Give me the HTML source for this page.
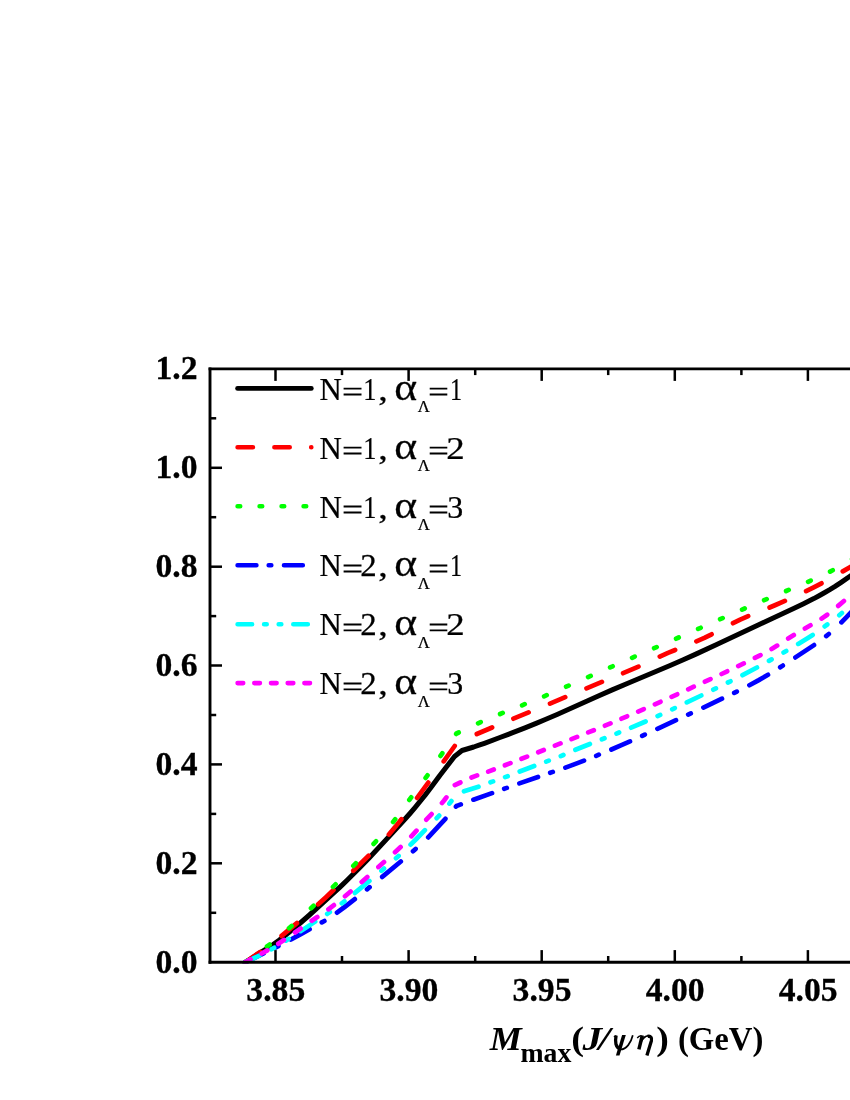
<!DOCTYPE html>
<html><head><meta charset="utf-8"><title>chart</title>
<style>html,body{margin:0;padding:0;background:#fff;}body{width:850px;height:1100px;overflow:hidden;font-family:"Liberation Serif",serif;}svg{display:block;will-change:transform;}text{font-family:"Liberation Serif",serif;}</style>
</head><body>
<svg width="850" height="1100" viewBox="0 0 850 1100">
<rect x="0" y="0" width="850" height="1100" fill="#ffffff"/>
<defs><clipPath id="cp"><rect x="210.0" y="368.9" width="700" height="594.8"/></clipPath></defs>
<g fill="none" stroke-linecap="round" stroke-linejoin="round" clip-path="url(#cp)">
<path d="M245.0,962.5L260.3,952.6L268.9,947.4L272.8,944.8L275.6,942.8L279.1,940.2L288.1,933.1L300.3,923.0L308.9,915.5L333.4,893.2L339.7,887.4L347.1,880.2L358.6,868.8L369.1,857.9L392.9,832.4L405.3,818.8L410.4,813.0L415.2,807.3L425.3,794.9L430.0,788.8L440.0,775.2L454.5,756.5L462.0,750.5L473.7,747.0L479.0,745.2L484.4,743.3L499.9,737.5L512.7,732.7L525.0,727.9L536.1,723.4L545.9,719.3L557.1,714.5L597.2,696.5L612.2,689.9L627.3,683.5L670.1,665.5L683.3,659.8L695.9,654.1L716.7,644.5L758.2,624.9L793.6,608.5L803.6,603.7L813.8,598.6L819.1,595.7L824.4,592.7L829.8,589.6L834.7,586.6L841.2,582.3L851.5,575.3L855.3,572.5L860.0,569.0" stroke="#000000" stroke-width="5.0"/>
<path d="M245.0,962.4L260.3,951.9M281.6,935.9L288.8,929.9L296.9,923.1M318.2,904.3L325.7,897.4L333.5,890.0M353.3,870.8L368.6,855.8M388.9,834.5L395.1,827.1L401.4,819.2M417.1,797.9L428.3,782.6M443.7,761.3L454.7,746.0M476.8,734.0L492.1,727.5M513.4,718.7L528.6,712.4M550.0,703.6L565.2,697.2M586.5,688.3L601.9,681.9M623.1,673.2L631.4,669.7L638.5,666.6M659.8,656.6L668.0,652.9L675.1,650.0M696.4,641.4L704.4,637.9L711.6,634.3M733.0,623.2L740.2,619.6L748.2,616.1M769.6,607.5L775.5,605.0L784.9,600.9M806.1,591.1L814.2,587.1L821.5,583.3M842.8,571.4L853.4,565.3L858.1,562.4" stroke="#ff0000" stroke-width="4.7"/>
<path d="M245.0,962.4L247.6,960.5M267.0,946.5L269.6,944.6M289.0,928.3L291.6,926.0M311.0,908.2L313.6,905.8M333.0,886.9L335.6,884.3M353.3,865.9L355.8,863.3M373.6,843.9L376.0,841.3M393.1,821.9L395.2,819.3M409.3,799.9L411.2,797.3M425.6,777.9L427.5,775.3M440.5,755.9L442.3,753.3M456.2,733.9L456.5,733.5M456.5,733.5L458.7,732.5M478.1,723.3L480.7,722.1M500.1,714.0L502.7,712.9M522.1,705.3L524.7,704.2M544.1,696.3L546.7,695.2M566.1,686.7L568.7,685.6M588.1,677.1L590.7,675.9M610.1,667.4L612.7,666.3M632.1,657.8L634.7,656.6M654.1,648.2L656.7,647.1M676.1,638.7L678.7,637.5M698.1,628.9L700.7,627.8M720.1,619.2L722.7,618.1M742.1,609.6L744.7,608.5M764.1,600.2L766.7,599.1M786.1,591.0L788.7,589.9M808.1,581.8L810.7,580.6M830.1,571.6L832.7,570.2M852.1,559.2L854.7,557.4" stroke="#00ff00" stroke-width="4.7"/>
<path d="M245.0,962.3L263.6,953.5M275.8,947.4L278.4,946.1M291.0,939.5L300.8,934.1L309.6,929.2M321.8,922.4L324.4,921.0M337.0,912.7L344.6,907.0L354.8,899.1M367.0,889.3L369.6,887.2M382.2,876.9L400.8,861.5M413.0,851.2L415.6,848.9M428.2,837.4L440.7,823.9L445.4,818.8M456.0,806.6L456.5,806.0M458.2,805.4L460.8,804.4M473.4,799.7L492.0,793.1M504.2,788.8L506.8,787.9M519.4,783.4L538.0,777.0M550.2,772.8L552.8,771.9M565.4,767.6L573.5,764.6L584.0,760.6M596.2,755.8L598.8,754.7M611.4,749.5L621.4,745.2L630.0,741.4M642.2,735.9L644.8,734.6M657.4,728.8L676.0,720.2M688.2,714.6L690.8,713.4M703.4,707.6L722.0,698.7M734.2,692.9L736.8,691.6M749.4,685.2L758.8,680.1L768.0,674.8M780.2,667.3L782.8,665.6M795.4,657.4L814.0,645.1M826.2,636.1L828.8,634.0M841.4,622.3L847.0,616.6L851.9,611.4L855.2,607.7L858.3,603.7" stroke="#0000ff" stroke-width="4.7"/>
<path d="M245.0,962.4L259.5,955.5M271.5,949.3L274.1,947.8M286.1,940.6L288.7,938.9M300.7,931.1L315.2,921.6M327.2,913.9L329.8,912.1M341.8,903.3L344.4,901.3M354.9,892.9L369.4,880.9M381.4,870.8L384.0,868.6M396.0,858.2L398.6,855.9M410.6,844.7L416.3,839.0L424.9,830.2M436.7,818.2L439.2,815.6M449.4,803.6L451.4,801.0M464.0,791.3L478.5,786.7M490.5,782.3L493.1,781.4M505.1,777.1L507.7,776.2M519.7,771.5L534.2,766.0M546.2,761.6L548.8,760.6M560.8,756.1L563.4,755.0M575.4,749.8L589.9,744.0M601.9,739.3L604.5,738.3M616.5,733.6L619.1,732.5M631.1,727.7L645.6,721.5M657.6,716.1L660.2,714.9M672.2,709.3L674.8,708.1M686.8,702.4L701.3,695.5M713.3,689.7L715.9,688.4M727.9,682.5L730.5,681.3M742.5,675.2L757.0,667.5M769.0,660.9L771.6,659.4M783.6,652.5L786.2,651.0M798.2,643.9L806.7,638.7L812.7,634.9M824.7,626.4L827.3,624.5M839.3,615.2L841.9,613.0M853.6,601.2L860.0,594.8" stroke="#00ffff" stroke-width="4.7"/>
<path d="M245.0,962.4L250.6,959.4M261.7,953.5L267.3,950.4M278.3,943.7L283.9,940.0M295.0,932.5L300.6,928.6M311.7,920.8L317.3,917.0M328.4,909.3L333.9,905.1M345.0,896.2L350.6,891.5M361.7,881.9L367.3,877.0M378.4,867.1L384.0,862.1M395.0,852.2L400.6,847.1M411.3,836.3L416.5,830.7M426.3,819.7L431.6,814.1M442.0,803.0L444.1,800.5L446.4,797.4M454.8,785.1L460.4,782.5M471.5,777.5L477.1,775.4M488.2,771.6L493.8,769.5M504.9,765.3L510.5,763.1M521.5,758.8L527.1,756.6M538.2,752.2L543.8,750.0M554.9,745.6L560.5,743.4M571.5,739.1L577.1,736.9M588.2,732.4L593.8,730.2M604.9,725.7L610.5,723.4M621.5,718.7L627.1,716.3M638.2,711.6L643.8,709.1M654.9,704.3L660.5,701.8M671.6,696.8L677.2,694.3M688.2,689.3L693.8,686.7M704.9,681.7L710.5,679.1M721.6,674.0L727.2,671.3M738.2,666.1L743.8,663.4M754.9,657.9L760.5,655.1M771.6,649.0L777.2,645.6M788.2,638.6L793.8,635.0M804.9,628.5L810.5,625.3M821.6,618.6L827.2,614.7M838.2,605.9L843.9,601.0M854.9,591.5L860.0,587.0" stroke="#ff00ff" stroke-width="4.7"/>
</g>
<g stroke="#000" fill="none" stroke-linecap="butt">
<line x1="210.0" y1="367.4" x2="210.0" y2="963.7" stroke-width="2.9"/>
<line x1="208.6" y1="368.9" x2="850" y2="368.9" stroke-width="2.9"/>
<line x1="208.6" y1="962.2" x2="850" y2="962.2" stroke-width="2.9"/>
<line x1="275.5" y1="962.2" x2="275.5" y2="950.1" stroke-width="2.5"/>
<line x1="275.5" y1="368.9" x2="275.5" y2="380.9" stroke-width="2.5"/>
<line x1="342.0" y1="962.2" x2="342.0" y2="956.0" stroke-width="2.5"/>
<line x1="342.0" y1="368.9" x2="342.0" y2="375.1" stroke-width="2.5"/>
<line x1="408.6" y1="962.2" x2="408.6" y2="950.1" stroke-width="2.5"/>
<line x1="408.6" y1="368.9" x2="408.6" y2="380.9" stroke-width="2.5"/>
<line x1="475.2" y1="962.2" x2="475.2" y2="956.0" stroke-width="2.5"/>
<line x1="475.2" y1="368.9" x2="475.2" y2="375.1" stroke-width="2.5"/>
<line x1="541.7" y1="962.2" x2="541.7" y2="950.1" stroke-width="2.5"/>
<line x1="541.7" y1="368.9" x2="541.7" y2="380.9" stroke-width="2.5"/>
<line x1="608.2" y1="962.2" x2="608.2" y2="956.0" stroke-width="2.5"/>
<line x1="608.2" y1="368.9" x2="608.2" y2="375.1" stroke-width="2.5"/>
<line x1="674.8" y1="962.2" x2="674.8" y2="950.1" stroke-width="2.5"/>
<line x1="674.8" y1="368.9" x2="674.8" y2="380.9" stroke-width="2.5"/>
<line x1="741.4" y1="962.2" x2="741.4" y2="956.0" stroke-width="2.5"/>
<line x1="741.4" y1="368.9" x2="741.4" y2="375.1" stroke-width="2.5"/>
<line x1="807.9" y1="962.2" x2="807.9" y2="950.1" stroke-width="2.5"/>
<line x1="807.9" y1="368.9" x2="807.9" y2="380.9" stroke-width="2.5"/>
<line x1="210.0" y1="912.8" x2="216.2" y2="912.8" stroke-width="2.5"/>
<line x1="210.0" y1="863.3" x2="222.0" y2="863.3" stroke-width="2.5"/>
<line x1="210.0" y1="813.9" x2="216.2" y2="813.9" stroke-width="2.5"/>
<line x1="210.0" y1="764.4" x2="222.0" y2="764.4" stroke-width="2.5"/>
<line x1="210.0" y1="715.0" x2="216.2" y2="715.0" stroke-width="2.5"/>
<line x1="210.0" y1="665.5" x2="222.0" y2="665.5" stroke-width="2.5"/>
<line x1="210.0" y1="616.1" x2="216.2" y2="616.1" stroke-width="2.5"/>
<line x1="210.0" y1="566.7" x2="222.0" y2="566.7" stroke-width="2.5"/>
<line x1="210.0" y1="517.2" x2="216.2" y2="517.2" stroke-width="2.5"/>
<line x1="210.0" y1="467.8" x2="222.0" y2="467.8" stroke-width="2.5"/>
<line x1="210.0" y1="418.3" x2="216.2" y2="418.3" stroke-width="2.5"/>
</g>
<g fill="#000" stroke="#000" stroke-width="0.3">
<text transform="translate(197.60,972.50) scale(1.0200,1)" font-size="33" text-anchor="end" font-weight="bold">0.0</text>
<text transform="translate(197.60,873.62) scale(1.0200,1)" font-size="33" text-anchor="end" font-weight="bold">0.2</text>
<text transform="translate(197.60,774.73) scale(1.0200,1)" font-size="33" text-anchor="end" font-weight="bold">0.4</text>
<text transform="translate(197.60,675.85) scale(1.0200,1)" font-size="33" text-anchor="end" font-weight="bold">0.6</text>
<text transform="translate(197.60,576.97) scale(1.0200,1)" font-size="33" text-anchor="end" font-weight="bold">0.8</text>
<text transform="translate(197.60,478.08) scale(1.0200,1)" font-size="33" text-anchor="end" font-weight="bold">1.0</text>
<text transform="translate(197.60,379.20) scale(1.0200,1)" font-size="33" text-anchor="end" font-weight="bold">1.2</text>
<text transform="translate(275.80,1001.00) scale(1.0200,1)" font-size="33" text-anchor="middle" font-weight="bold">3.85</text>
<text transform="translate(408.90,1001.00) scale(1.0200,1)" font-size="33" text-anchor="middle" font-weight="bold">3.90</text>
<text transform="translate(542.00,1001.00) scale(1.0200,1)" font-size="33" text-anchor="middle" font-weight="bold">3.95</text>
<text transform="translate(675.10,1001.00) scale(1.0200,1)" font-size="33" text-anchor="middle" font-weight="bold">4.00</text>
<text transform="translate(808.20,1001.00) scale(1.0200,1)" font-size="33" text-anchor="middle" font-weight="bold">4.05</text>
</g>
<g fill="none" stroke-linecap="round">
<path d="M237.6,388.4 L311.3,388.4" stroke="#000000" stroke-width="4.8"/>
<path d="M237.6,447.3 L311.3,447.3" stroke="#ff0000" stroke-width="4.6" stroke-dasharray="15.3 21.5"/>
<path d="M237.6,506.3 L311.3,506.3" stroke="#00ff00" stroke-width="4.6" stroke-dasharray="2.6 19.4"/>
<path d="M237.6,565.2 L311.3,565.2" stroke="#0000ff" stroke-width="4.6" stroke-dasharray="18.8 12.3 2.6 12.7"/>
<path d="M237.6,624.2 L311.3,624.2" stroke="#00ffff" stroke-width="4.6" stroke-dasharray="14.5 12 2.6 12 2.6 12"/>
<path d="M237.6,683.1 L311.3,683.1" stroke="#ff00ff" stroke-width="4.6" stroke-dasharray="5.6 11.1"/>
</g>
<g fill="#000" stroke="#000" stroke-width="0.25">
<text transform="translate(319.51,399.60) scale(0.9530,1)" font-size="32.4">N</text>
<path stroke="none" d="M343.6,387.7h17.9v1.9h-17.9z M343.6,393.6h17.9v1.9h-17.9z"/>
<text transform="translate(363.28,399.60) scale(0.8153,1)" font-size="32.4">1</text>
<text transform="translate(378.14,399.60) scale(1.1813,1)" font-size="32.4">,</text>
<text transform="translate(394.34,399.64) scale(1.3623,1.1619)" font-size="32">&#945;</text>
<text transform="translate(417.84,412.20) scale(0.9761,1)" font-size="17.0">&#923;</text>
<path stroke="none" d="M429.7,387.7h17.6v1.9h-17.6z M429.7,393.6h17.6v1.9h-17.6z"/>
<text transform="translate(449.98,399.60) scale(0.7452,1)" font-size="32.4">1</text>
<text transform="translate(319.51,458.55) scale(0.9530,1)" font-size="32.4">N</text>
<path stroke="none" d="M343.6,446.7h17.9v1.9h-17.9z M343.6,452.6h17.9v1.9h-17.9z"/>
<text transform="translate(363.28,458.55) scale(0.8153,1)" font-size="32.4">1</text>
<text transform="translate(378.14,458.55) scale(1.1813,1)" font-size="32.4">,</text>
<text transform="translate(394.34,458.59) scale(1.3623,1.1619)" font-size="32">&#945;</text>
<text transform="translate(417.84,471.15) scale(0.9761,1)" font-size="17.0">&#923;</text>
<path stroke="none" d="M429.7,446.7h17.6v1.9h-17.6z M429.7,452.6h17.6v1.9h-17.6z"/>
<text transform="translate(446.28,458.55) scale(1.1395,1)" font-size="32.4">2</text>
<text transform="translate(319.51,517.50) scale(0.9530,1)" font-size="32.4">N</text>
<path stroke="none" d="M343.6,505.6h17.9v1.9h-17.9z M343.6,511.5h17.9v1.9h-17.9z"/>
<text transform="translate(363.28,517.50) scale(0.8153,1)" font-size="32.4">1</text>
<text transform="translate(378.14,517.50) scale(1.1813,1)" font-size="32.4">,</text>
<text transform="translate(394.34,517.54) scale(1.3623,1.1619)" font-size="32">&#945;</text>
<text transform="translate(417.84,530.10) scale(0.9761,1)" font-size="17.0">&#923;</text>
<path stroke="none" d="M429.7,505.6h17.6v1.9h-17.6z M429.7,511.5h17.6v1.9h-17.6z"/>
<text transform="translate(447.17,517.50) scale(0.9863,1)" font-size="32.4">3</text>
<text transform="translate(319.51,576.45) scale(0.9530,1)" font-size="32.4">N</text>
<path stroke="none" d="M343.6,564.6h17.9v1.9h-17.9z M343.6,570.5h17.9v1.9h-17.9z"/>
<text transform="translate(360.35,576.45) scale(1.0163,1)" font-size="32.4">2</text>
<text transform="translate(378.14,576.45) scale(1.1813,1)" font-size="32.4">,</text>
<text transform="translate(394.34,576.49) scale(1.3623,1.1619)" font-size="32">&#945;</text>
<text transform="translate(417.84,589.05) scale(0.9761,1)" font-size="17.0">&#923;</text>
<path stroke="none" d="M429.7,564.6h17.6v1.9h-17.6z M429.7,570.5h17.6v1.9h-17.6z"/>
<text transform="translate(449.98,576.45) scale(0.7452,1)" font-size="32.4">1</text>
<text transform="translate(319.51,635.40) scale(0.9530,1)" font-size="32.4">N</text>
<path stroke="none" d="M343.6,623.5h17.9v1.9h-17.9z M343.6,629.4h17.9v1.9h-17.9z"/>
<text transform="translate(360.35,635.40) scale(1.0163,1)" font-size="32.4">2</text>
<text transform="translate(378.14,635.40) scale(1.1813,1)" font-size="32.4">,</text>
<text transform="translate(394.34,635.44) scale(1.3623,1.1619)" font-size="32">&#945;</text>
<text transform="translate(417.84,648.00) scale(0.9761,1)" font-size="17.0">&#923;</text>
<path stroke="none" d="M429.7,623.5h17.6v1.9h-17.6z M429.7,629.4h17.6v1.9h-17.6z"/>
<text transform="translate(446.28,635.40) scale(1.1395,1)" font-size="32.4">2</text>
<text transform="translate(319.51,694.35) scale(0.9530,1)" font-size="32.4">N</text>
<path stroke="none" d="M343.6,682.5h17.9v1.9h-17.9z M343.6,688.4h17.9v1.9h-17.9z"/>
<text transform="translate(360.35,694.35) scale(1.0163,1)" font-size="32.4">2</text>
<text transform="translate(378.14,694.35) scale(1.1813,1)" font-size="32.4">,</text>
<text transform="translate(394.34,694.39) scale(1.3623,1.1619)" font-size="32">&#945;</text>
<text transform="translate(417.84,706.95) scale(0.9761,1)" font-size="17.0">&#923;</text>
<path stroke="none" d="M429.7,682.5h17.6v1.9h-17.6z M429.7,688.4h17.6v1.9h-17.6z"/>
<text transform="translate(447.17,694.35) scale(0.9863,1)" font-size="32.4">3</text>
</g>
<g fill="#000"><text transform="translate(489.87,1049.50) scale(1.0751,1)" font-size="33.5" font-weight="bold" font-style="italic">M</text><text transform="translate(520.45,1062.40) scale(0.9916,1)" font-size="28" font-weight="bold">max</text><text transform="translate(571.31,1049.50) scale(1.1681,1)" font-size="33" font-weight="bold">(</text><text transform="translate(582.58,1049.50) scale(1.1873,1)" font-size="33" font-weight="bold" font-style="italic">J</text><text transform="translate(598.55,1049.50) scale(1.2777,1)" font-size="33" font-weight="bold" font-style="italic">/</text><g fill="none" stroke="#000" stroke-linecap="butt" stroke-linejoin="round"><path d="M622.1,1034.9h3.7l-6.3,20.7h-3.6z" fill="#000" stroke="none"/><path d="M613.9,1037.2 C614.6,1036.2 615.3,1035.8 616.3,1035.6" stroke-width="1.2"/><path d="M616.1,1035.5 C614.9,1041.5 615.3,1048.0 620.9,1049.1" stroke-width="3.3"/><path d="M620.3,1049.5 C626.6,1049.6 631.0,1042.5 632.8,1035.2" stroke-width="1.7"/><path d="M637.2,1038.0 C638.4,1036.4 639.5,1035.8 641.2,1035.6" stroke-width="1.3"/><path d="M642.3,1035.3 L638.9,1049.4" stroke-width="3.5"/><path d="M641.0,1041.9 C643.3,1037.6 646.3,1035.6 648.6,1035.9" stroke-width="1.6"/><path d="M647.6,1036.4 C650.8,1035.6 652.2,1037.8 651.4,1040.8 L646.9,1055.6" stroke-width="3.3"/></g><text transform="translate(656.28,1049.50) scale(1.1445,1)" font-size="33" font-weight="bold">)</text><text transform="translate(677.96,1049.50) scale(0.9925,1)" font-size="33" font-weight="bold">(GeV)</text></g>
</svg></body></html>
